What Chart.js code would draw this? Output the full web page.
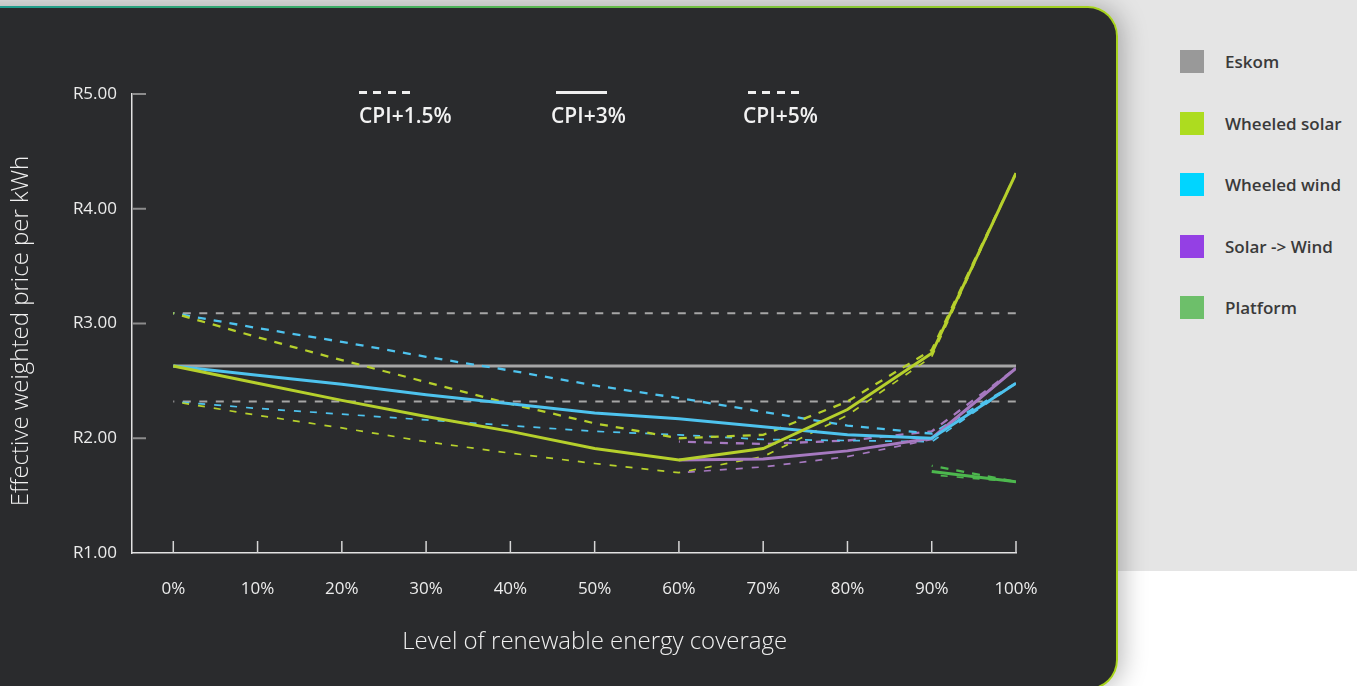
<!DOCTYPE html>
<html>
<head>
<meta charset="utf-8">
<script src="https://cdn.jsdelivr.net/npm/chart.js@4.4.0/dist/chart.umd.min.js"></script>
<style>
  html, body { margin: 0; padding: 0; }
  body {
    width: 1357px; height: 686px; overflow: hidden; position: relative;
    background: #e5e5e5; font-family: "Open Sans", sans-serif;
  }
  #lower { position: absolute; left: 1090px; top: 571px; right: 0; bottom: 0; background: #ffffff; }
  #frame {
    position: absolute; left: -40px; top: 6px; width: 1158px; height: 684px;
    border-radius: 0 30px 30px 0;
    background: linear-gradient(90deg, #1d9a93 0%, #3fae62 35%, #7dc33a 70%, #a8d31c 100%);
    box-shadow: 4px 0 26px rgba(0,0,0,0.28);
  }
  #card {
    position: absolute; left: 0; top: 2px; right: 2px; bottom: 2px;
    border-radius: 0 28px 28px 0; background: #2a2b2d;
  }
  #chart { position: absolute; left: 0; top: 0; z-index: 2; }
  .cpi { position: absolute; z-index: 3; color: #f2f2f2; }
  .cpi .mark { position: absolute; left: 0; top: 91px; width: 51px; height: 3px; }
  .cpi .mark.dashed { background: repeating-linear-gradient(90deg, #eeeeee 0 8px, transparent 8px 14.3px); }
  .cpi .mark.solid { background: #eeeeee; }
  .cpi span {
    position: absolute; left: 0; top: 105px; white-space: nowrap;
    font-weight: 600; font-size: 21px; line-height: 21px;
  }
  #legend { position: absolute; left: 1180px; top: 0; z-index: 3; }
  .item { position: absolute; left: 0; display: flex; align-items: center; white-space: nowrap; }
  .item i { display: block; width: 24px; height: 23px; margin-right: 21px; }
  .item b { font-weight: 600; font-size: 17px; color: #3a3a3a; }
</style>
</head>
<body>
<div id="lower"></div>
<div id="frame"><div id="card"></div></div>
<canvas id="chart" width="1117" height="686"></canvas>
<div id="cpiKey"></div>
<div id="legend"></div>
<script>
// Renewable coverage levels (x axis) and their tick labels
const coverage = [0, 10, 20, 30, 40, 50, 60, 70, 80, 90, 100];
const coverageLabels = ['0%', '10%', '20%', '30%', '40%', '50%', '60%', '70%', '80%', '90%', '100%'];

// Price axis ticks (rand per kWh)
const priceTicks = [1, 2, 3, 4, 5];
const priceLabels = ['R1.00', 'R2.00', 'R3.00', 'R4.00', 'R5.00'];

// Eskom tariff path under each escalation scenario
const eskomCpi15 = [2.32, 2.32, 2.32, 2.32, 2.32, 2.32, 2.32, 2.32, 2.32, 2.32, 2.32];
const eskomCpi3  = [2.63, 2.63, 2.63, 2.63, 2.63, 2.63, 2.63, 2.63, 2.63, 2.63, 2.63];
const eskomCpi5  = [3.09, 3.09, 3.09, 3.09, 3.09, 3.09, 3.09, 3.09, 3.09, 3.09, 3.09];

// Wheeled solar
const solarCpi15 = [2.32, 2.20, 2.09, 1.97, 1.87, 1.78, 1.70, 1.84, 2.20, 2.71, 4.31];
const solarCpi3  = [2.63, 2.48, 2.33, 2.19, 2.06, 1.91, 1.81, 1.91, 2.25, 2.74, 4.31];
const solarCpi5  = [3.09, 2.88, 2.68, 2.49, 2.30, 2.13, 2.00, 2.03, 2.32, 2.77, 4.31];

// Wheeled wind
const windCpi15 = [2.32, 2.26, 2.21, 2.16, 2.11, 2.06, 2.03, 1.99, 1.98, 1.97, 2.48];
const windCpi3  = [2.63, 2.55, 2.47, 2.38, 2.30, 2.22, 2.17, 2.10, 2.03, 2.00, 2.48];
const windCpi5  = [3.09, 2.96, 2.84, 2.71, 2.59, 2.46, 2.35, 2.23, 2.11, 2.04, 2.48];

// Solar -> Wind (only from 60% coverage)
const solarWindCpi15 = [null, null, null, null, null, null, 1.70, 1.75, 1.84, 1.99, 2.61];
const solarWindCpi3  = [null, null, null, null, null, null, 1.81, 1.82, 1.89, 2.00, 2.61];
const solarWindCpi5  = [null, null, null, null, null, null, 1.97, 1.95, 1.98, 2.06, 2.61];

// Platform (only at 90% and 100%)
const platformCpi15 = [null, null, null, null, null, null, null, null, null, 1.68, 1.62];
const platformCpi3  = [null, null, null, null, null, null, null, null, null, 1.71, 1.62];
const platformCpi5  = [null, null, null, null, null, null, null, null, null, 1.76, 1.62];

// Series names and colours
const seriesNames   = ['Eskom', 'Wheeled solar', 'Wheeled wind', 'Solar -> Wind', 'Platform'];
const legendColours = ['#999999', '#addc1f', '#00d5ff', '#9440e4', '#6dbf6a'];
const lineColours   = ['#a6a6a6', '#b6d02c', '#4ec3ee', '#a679c0', '#4db84e'];

const scenarioNames = ['CPI+1.5%', 'CPI+3%', 'CPI+5%'];

const seriesValues = [
  [eskomCpi15, eskomCpi3, eskomCpi5],
  [solarCpi15, solarCpi3, solarCpi5],
  [windCpi15, windCpi3, windCpi5],
  [solarWindCpi15, solarWindCpi3, solarWindCpi5],
  [platformCpi15, platformCpi3, platformCpi5]
];

// Line style per scenario: thin dashes, solid, heavier dashes
const scenarioStyle = [
  { borderWidth: 1.7, borderDash: [7, 9], borderDashOffset: 7, order: 2 },
  { borderWidth: 3,   borderDash: [],     borderDashOffset: 0, order: 1 },
  { borderWidth: 2.3, borderDash: [8, 8], borderDashOffset: 7, order: 2 }
];

const datasets = [];
seriesValues.forEach((group, s) => {
  group.forEach((values, k) => {
    const st = scenarioStyle[k];
    datasets.push({
      label: seriesNames[s] + ' ' + scenarioNames[k],
      data: coverage.map((x, i) => ({ x: x, y: values[i] })),
      borderColor: lineColours[s],
      borderWidth: s === 0 && k !== 1 ? 2 : st.borderWidth,
      borderDash: s === 0 && k !== 1 ? [8, 8.5] : st.borderDash,
      borderDashOffset: st.borderDashOffset,
      order: s === 0 ? 3 : st.order,
      pointRadius: 0,
      tension: 0,
      fill: false,
      spanGaps: false
    });
  });
});

// Inner tick marks and axis titles
const axisDecor = {
  id: 'axisDecor',
  afterDraw(chart) {
    const { ctx } = chart;
    const xs = chart.scales.x, ys = chart.scales.y;
    ctx.save();
    ctx.strokeStyle = '#d6d6d6';
    ctx.lineWidth = 1.5;
    coverage.forEach(v => {
      const px = xs.getPixelForValue(v);
      ctx.beginPath();
      ctx.moveTo(px, ys.bottom);
      ctx.lineTo(px, ys.bottom - 12);
      ctx.stroke();
    });
    ctx.strokeStyle = '#8c8c8c';
    ctx.lineWidth = 2;
    priceTicks.slice(1).forEach(v => {
      const py = ys.getPixelForValue(v);
      ctx.beginPath();
      ctx.moveTo(xs.left, py);
      ctx.lineTo(xs.left + 14, py);
      ctx.stroke();
    });
    ctx.fillStyle = '#f0f0f0';
    ctx.font = '300 24px "Open Sans"';
    ctx.textAlign = 'center';
    ctx.textBaseline = 'middle';
    ctx.fillText('Level of renewable energy coverage', xs.getPixelForValue(50), 642);
    ctx.translate(21, 331);
    ctx.rotate(-Math.PI / 2);
    ctx.fillText('Effective weighted price per kWh', 0, 0);
    ctx.restore();
  }
};

new Chart(document.getElementById('chart'), {
  type: 'line',
  data: { datasets: datasets },
  options: {
    responsive: false,
    animation: false,
    devicePixelRatio: 1,
    layout: { padding: { left: 0, top: 94, right: 101, bottom: 0 } },
    plugins: { legend: { display: false }, tooltip: { enabled: false } },
    scales: {
      x: {
        type: 'linear', min: -4.9, max: 100,
        afterBuildTicks: s => { s.ticks = coverage.map(v => ({ value: v })); },
        afterFit: s => { s.height = 133; },
        grid: { display: false, drawTicks: false },
        border: { display: true, color: '#e2e2e2', width: 1.5 },
        ticks: {
          color: '#ececec', font: { family: 'Open Sans', size: 17 }, padding: 26,
          maxRotation: 0, autoSkip: false,
          callback: (v, i) => coverageLabels[i]
        }
      },
      y: {
        type: 'linear', min: 1, max: 5,
        afterBuildTicks: s => { s.ticks = priceTicks.map(v => ({ value: v })); },
        afterFit: s => { s.width = 132; },
        grid: { display: false, drawTicks: false },
        border: { display: true, color: '#e2e2e2', width: 1.5 },
        ticks: {
          color: '#ececec', font: { family: 'Open Sans', size: 17 }, padding: 15,
          callback: (v, i) => priceLabels[i]
        }
      }
    }
  },
  plugins: [axisDecor]
});

// Scenario key across the top of the plot
const cpiLeft = [359, 556, 748];
const cpiTextLeft = [359, 551, 743];
const cpiMark = ['dashed', 'solid', 'dashed'];
const key = document.getElementById('cpiKey');
scenarioNames.forEach((name, k) => {
  const d = document.createElement('div');
  d.className = 'cpi';
  d.style.left = '0px';
  d.style.top = '0px';
  d.innerHTML = '<div class="mark ' + cpiMark[k] + '" style="left:' + cpiLeft[k] + 'px"></div>' +
                '<span style="left:' + cpiTextLeft[k] + 'px"></span>';
  d.querySelector('span').textContent = name;
  key.appendChild(d);
});

// Series legend on the right
const legend = document.getElementById('legend');
seriesNames.forEach((name, s) => {
  const row = document.createElement('div');
  row.className = 'item';
  row.style.top = (50 + s * 61.5) + 'px';
  const sw = document.createElement('i');
  sw.style.background = legendColours[s];
  const lb = document.createElement('b');
  lb.textContent = name;
  row.appendChild(sw);
  row.appendChild(lb);
  legend.appendChild(row);
});
</script>
</body>
</html>
